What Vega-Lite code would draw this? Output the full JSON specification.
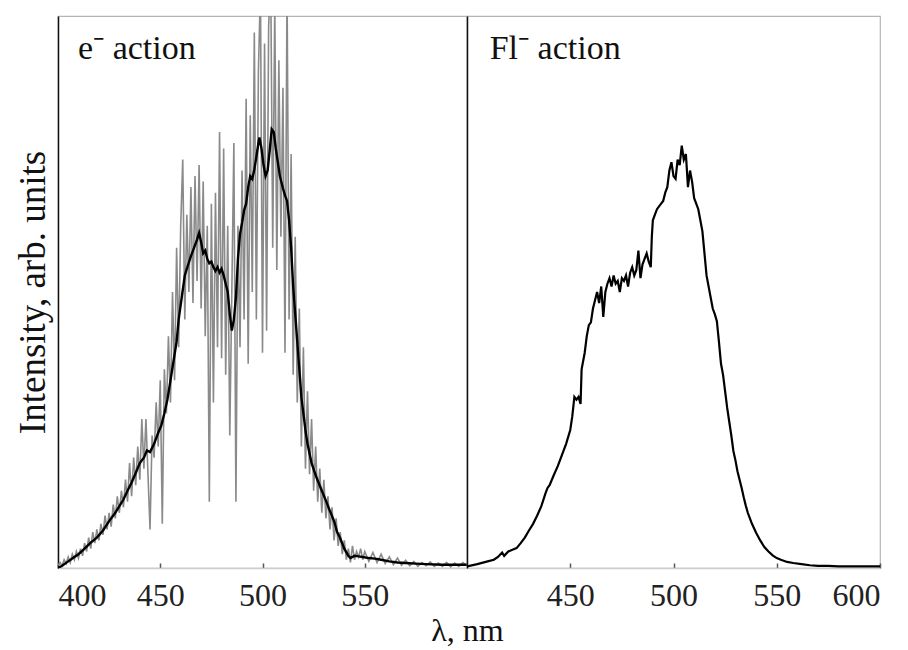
{
"$schema": "https://vega.github.io/schema/vega-lite/v6.json",
"background": "white",
"padding": {"left": 13, "top": 15, "right": 20, "bottom": 5},
"spacing": 0,
"bounds": "flush",
"config": {"view": {"stroke": "#b5b5b5", "strokeWidth": 1.2}, "font": "Times New Roman", "axis": {"labelFont": "Times New Roman", "titleFont": "Times New Roman", "grid": false}},
"datasets": {
"eraw": [{"wl":400,"I":0.005},{"wl":401,"I":0.01},{"wl":402,"I":0.004},{"wl":403,"I":0.015},{"wl":404,"I":0.008},{"wl":405,"I":0.02},{"wl":406,"I":0.01},{"wl":407,"I":0.025},{"wl":408,"I":0.015},{"wl":409,"I":0.03},{"wl":410,"I":0.018},{"wl":411,"I":0.035},{"wl":412,"I":0.022},{"wl":413,"I":0.045},{"wl":414,"I":0.03},{"wl":415,"I":0.055},{"wl":416,"I":0.035},{"wl":417,"I":0.065},{"wl":418,"I":0.045},{"wl":419,"I":0.07},{"wl":420,"I":0.05},{"wl":421,"I":0.08},{"wl":422,"I":0.06},{"wl":423,"I":0.095},{"wl":424,"I":0.07},{"wl":425,"I":0.1},{"wl":426,"I":0.075},{"wl":427,"I":0.115},{"wl":428,"I":0.09},{"wl":429,"I":0.13},{"wl":430,"I":0.1},{"wl":431,"I":0.14},{"wl":432,"I":0.11},{"wl":433,"I":0.16},{"wl":434,"I":0.12},{"wl":435,"I":0.19},{"wl":436,"I":0.13},{"wl":437,"I":0.2},{"wl":438,"I":0.15},{"wl":439,"I":0.22},{"wl":440,"I":0.16},{"wl":441,"I":0.27},{"wl":442,"I":0.18},{"wl":443,"I":0.27},{"wl":444,"I":0.17},{"wl":445,"I":0.07},{"wl":446,"I":0.24},{"wl":447,"I":0.2},{"wl":448,"I":0.3},{"wl":449,"I":0.22},{"wl":450,"I":0.34},{"wl":451,"I":0.08},{"wl":452,"I":0.36},{"wl":453,"I":0.28},{"wl":454,"I":0.42},{"wl":455,"I":0.3},{"wl":456,"I":0.5},{"wl":457,"I":0.34},{"wl":458,"I":0.58},{"wl":459,"I":0.4},{"wl":460,"I":0.62},{"wl":461,"I":0.74},{"wl":462,"I":0.45},{"wl":463,"I":0.64},{"wl":464,"I":0.5},{"wl":465,"I":0.69},{"wl":466,"I":0.48},{"wl":467,"I":0.71},{"wl":468,"I":0.52},{"wl":469,"I":0.73},{"wl":470,"I":0.47},{"wl":471,"I":0.7},{"wl":472,"I":0.42},{"wl":473,"I":0.62},{"wl":474,"I":0.12},{"wl":475,"I":0.66},{"wl":476,"I":0.3},{"wl":477,"I":0.68},{"wl":478,"I":0.4},{"wl":479,"I":0.79},{"wl":480,"I":0.38},{"wl":481,"I":0.76},{"wl":482,"I":0.35},{"wl":483,"I":0.62},{"wl":484,"I":0.24},{"wl":485,"I":0.5},{"wl":486,"I":0.77},{"wl":487,"I":0.12},{"wl":488,"I":0.62},{"wl":489,"I":0.4},{"wl":490,"I":0.72},{"wl":491,"I":0.45},{"wl":492,"I":0.85},{"wl":493,"I":0.37},{"wl":494,"I":0.82},{"wl":495,"I":0.5},{"wl":496,"I":0.97},{"wl":497,"I":0.45},{"wl":498,"I":0.9},{"wl":499,"I":1.05},{"wl":500,"I":0.39},{"wl":501,"I":0.95},{"wl":502,"I":0.43},{"wl":503,"I":0.98},{"wl":504,"I":1.08},{"wl":505,"I":0.58},{"wl":506,"I":1.02},{"wl":507,"I":0.54},{"wl":508,"I":0.92},{"wl":509,"I":0.6},{"wl":510,"I":0.87},{"wl":511,"I":0.39},{"wl":512,"I":1.05},{"wl":513,"I":0.45},{"wl":514,"I":0.75},{"wl":515,"I":0.35},{"wl":516,"I":0.6},{"wl":517,"I":0.3},{"wl":518,"I":0.47},{"wl":519,"I":0.22},{"wl":520,"I":0.4},{"wl":521,"I":0.18},{"wl":522,"I":0.32},{"wl":523,"I":0.17},{"wl":524,"I":0.27},{"wl":525,"I":0.14},{"wl":526,"I":0.22},{"wl":527,"I":0.12},{"wl":528,"I":0.18},{"wl":529,"I":0.1},{"wl":530,"I":0.16},{"wl":531,"I":0.09},{"wl":532,"I":0.13},{"wl":533,"I":0.07},{"wl":534,"I":0.11},{"wl":535,"I":0.05},{"wl":536,"I":0.09},{"wl":537,"I":0.04},{"wl":538,"I":0.065},{"wl":539,"I":0.025},{"wl":540,"I":0.05},{"wl":541,"I":0.015},{"wl":542,"I":0.035},{"wl":543,"I":0.01},{"wl":544,"I":0.04},{"wl":545,"I":0.015},{"wl":546,"I":0.03},{"wl":547,"I":0.02},{"wl":548,"I":0.035},{"wl":549,"I":0.015},{"wl":550,"I":0.03},{"wl":552,"I":0.012},{"wl":554,"I":0.028},{"wl":556,"I":0.01},{"wl":558,"I":0.025},{"wl":560,"I":0.008},{"wl":562,"I":0.02},{"wl":564,"I":0.006},{"wl":566,"I":0.018},{"wl":568,"I":0.005},{"wl":570,"I":0.014},{"wl":572,"I":0.004},{"wl":574,"I":0.012},{"wl":576,"I":0.003},{"wl":578,"I":0.01},{"wl":580,"I":0.004},{"wl":582,"I":0.011},{"wl":584,"I":0.003},{"wl":586,"I":0.009},{"wl":588,"I":0.003},{"wl":590,"I":0.01},{"wl":592,"I":0.002},{"wl":594,"I":0.009},{"wl":596,"I":0.003},{"wl":598,"I":0.01},{"wl":600,"I":0.004}],
"esmooth": [{"wl":400,"I":0},{"wl":402,"I":0.004},{"wl":405,"I":0.012},{"wl":408,"I":0.02},{"wl":410,"I":0.025},{"wl":413,"I":0.035},{"wl":416,"I":0.046},{"wl":419,"I":0.055},{"wl":422,"I":0.068},{"wl":425,"I":0.085},{"wl":428,"I":0.1},{"wl":430,"I":0.112},{"wl":432,"I":0.124},{"wl":434,"I":0.14},{"wl":436,"I":0.155},{"wl":438,"I":0.172},{"wl":440,"I":0.19},{"wl":442,"I":0.2},{"wl":443.5,"I":0.213},{"wl":445,"I":0.21},{"wl":447,"I":0.225},{"wl":449,"I":0.245},{"wl":450.5,"I":0.258},{"wl":452,"I":0.28},{"wl":453.5,"I":0.305},{"wl":455,"I":0.34},{"wl":456.5,"I":0.375},{"wl":458,"I":0.41},{"wl":459,"I":0.45},{"wl":460.5,"I":0.49},{"wl":462,"I":0.53},{"wl":463.5,"I":0.548},{"wl":465,"I":0.565},{"wl":466.5,"I":0.58},{"wl":468,"I":0.595},{"wl":469,"I":0.607},{"wl":470,"I":0.59},{"wl":471,"I":0.57},{"wl":472,"I":0.575},{"wl":473,"I":0.56},{"wl":474,"I":0.552},{"wl":475,"I":0.555},{"wl":476,"I":0.545},{"wl":477,"I":0.538},{"wl":478,"I":0.545},{"wl":479,"I":0.535},{"wl":480,"I":0.542},{"wl":481,"I":0.53},{"wl":482,"I":0.515},{"wl":483,"I":0.5},{"wl":484,"I":0.46},{"wl":485,"I":0.43},{"wl":486,"I":0.45},{"wl":487,"I":0.49},{"wl":488,"I":0.56},{"wl":489,"I":0.605},{"wl":490,"I":0.625},{"wl":491,"I":0.648},{"wl":492,"I":0.66},{"wl":493,"I":0.69},{"wl":494,"I":0.71},{"wl":495,"I":0.705},{"wl":496,"I":0.722},{"wl":497,"I":0.745},{"wl":498,"I":0.77},{"wl":498.5,"I":0.78},{"wl":499.5,"I":0.76},{"wl":500.5,"I":0.73},{"wl":501.5,"I":0.71},{"wl":502.5,"I":0.72},{"wl":503.5,"I":0.755},{"wl":504.5,"I":0.795},{"wl":505.5,"I":0.79},{"wl":506.5,"I":0.76},{"wl":507.5,"I":0.735},{"wl":508.5,"I":0.71},{"wl":510,"I":0.688},{"wl":511,"I":0.675},{"wl":512,"I":0.665},{"wl":513,"I":0.63},{"wl":514,"I":0.58},{"wl":515,"I":0.51},{"wl":516,"I":0.46},{"wl":517,"I":0.41},{"wl":518,"I":0.36},{"wl":519,"I":0.31},{"wl":520,"I":0.28},{"wl":521,"I":0.25},{"wl":522,"I":0.225},{"wl":524,"I":0.19},{"wl":526.5,"I":0.163},{"wl":529,"I":0.14},{"wl":531,"I":0.122},{"wl":533,"I":0.103},{"wl":535,"I":0.085},{"wl":536.5,"I":0.065},{"wl":538,"I":0.054},{"wl":540,"I":0.035},{"wl":542,"I":0.022},{"wl":543,"I":0.018},{"wl":545,"I":0.022},{"wl":547,"I":0.021},{"wl":549,"I":0.02},{"wl":552,"I":0.018},{"wl":555,"I":0.017},{"wl":558,"I":0.015},{"wl":562,"I":0.012},{"wl":566,"I":0.01},{"wl":570,"I":0.009},{"wl":575,"I":0.008},{"wl":580,"I":0.007},{"wl":588,"I":0.006},{"wl":595,"I":0.006},{"wl":600,"I":0.006}],
"fl": [{"wl":400,"I":0.003},{"wl":405,"I":0.007},{"wl":410,"I":0.012},{"wl":413,"I":0.015},{"wl":415,"I":0.02},{"wl":417,"I":0.028},{"wl":418,"I":0.022},{"wl":420,"I":0.03},{"wl":422,"I":0.033},{"wl":424,"I":0.036},{"wl":426,"I":0.045},{"wl":428,"I":0.055},{"wl":430,"I":0.068},{"wl":432,"I":0.08},{"wl":434,"I":0.095},{"wl":436,"I":0.112},{"wl":438,"I":0.135},{"wl":439,"I":0.145},{"wl":440,"I":0.15},{"wl":442,"I":0.168},{"wl":444,"I":0.185},{"wl":446,"I":0.205},{"wl":448,"I":0.225},{"wl":450,"I":0.25},{"wl":451,"I":0.275},{"wl":452,"I":0.31},{"wl":453,"I":0.305},{"wl":454,"I":0.31},{"wl":455,"I":0.297},{"wl":455.5,"I":0.36},{"wl":457,"I":0.39},{"wl":458,"I":0.42},{"wl":459,"I":0.44},{"wl":460,"I":0.445},{"wl":461,"I":0.47},{"wl":462,"I":0.485},{"wl":463,"I":0.5},{"wl":464,"I":0.48},{"wl":465,"I":0.51},{"wl":466,"I":0.455},{"wl":467,"I":0.5},{"wl":468,"I":0.515},{"wl":469,"I":0.525},{"wl":470,"I":0.51},{"wl":471,"I":0.53},{"wl":472,"I":0.515},{"wl":473,"I":0.52},{"wl":474,"I":0.5},{"wl":475,"I":0.525},{"wl":476,"I":0.52},{"wl":477,"I":0.53},{"wl":478,"I":0.51},{"wl":479,"I":0.535},{"wl":480,"I":0.545},{"wl":481,"I":0.53},{"wl":482,"I":0.54},{"wl":483,"I":0.575},{"wl":484,"I":0.525},{"wl":485,"I":0.55},{"wl":486,"I":0.56},{"wl":487,"I":0.57},{"wl":488,"I":0.555},{"wl":489,"I":0.545},{"wl":489.5,"I":0.6},{"wl":490,"I":0.63},{"wl":491,"I":0.64},{"wl":492,"I":0.65},{"wl":493,"I":0.655},{"wl":494,"I":0.66},{"wl":495,"I":0.665},{"wl":496,"I":0.68},{"wl":497,"I":0.69},{"wl":498,"I":0.72},{"wl":499,"I":0.735},{"wl":500,"I":0.71},{"wl":501,"I":0.705},{"wl":502,"I":0.74},{"wl":503,"I":0.73},{"wl":504,"I":0.765},{"wl":505,"I":0.74},{"wl":506,"I":0.75},{"wl":507,"I":0.69},{"wl":508,"I":0.72},{"wl":509,"I":0.7},{"wl":510,"I":0.67},{"wl":511,"I":0.66},{"wl":512,"I":0.65},{"wl":513,"I":0.63},{"wl":514,"I":0.61},{"wl":515,"I":0.57},{"wl":516,"I":0.53},{"wl":517,"I":0.51},{"wl":518,"I":0.49},{"wl":519,"I":0.47},{"wl":520,"I":0.46},{"wl":521,"I":0.447},{"wl":522,"I":0.41},{"wl":523,"I":0.37},{"wl":524,"I":0.35},{"wl":525,"I":0.32},{"wl":526,"I":0.29},{"wl":527,"I":0.265},{"wl":528,"I":0.24},{"wl":529,"I":0.212},{"wl":530,"I":0.195},{"wl":531,"I":0.175},{"wl":532,"I":0.16},{"wl":533,"I":0.145},{"wl":534,"I":0.128},{"wl":535,"I":0.113},{"wl":536,"I":0.1},{"wl":538,"I":0.08},{"wl":540,"I":0.064},{"wl":542,"I":0.05},{"wl":544,"I":0.038},{"wl":546,"I":0.03},{"wl":548,"I":0.023},{"wl":550,"I":0.018},{"wl":552,"I":0.015},{"wl":555,"I":0.011},{"wl":558,"I":0.009},{"wl":562,"I":0.007},{"wl":566,"I":0.005},{"wl":570,"I":0.004},{"wl":575,"I":0.004},{"wl":580,"I":0.003},{"wl":590,"I":0.003},{"wl":600,"I":0.003}],
"lab1": [{"wl":409.8,"I":0.922,"t":"e⁻ action"}],
"lab2": [{"wl":411,"I":0.922,"t":"Fl⁻ action"}]
},
"hconcat": [
{
"width": 409, "height": 552,
"layer": [
{"data": {"name": "eraw"}, "mark": {"type": "line", "color": "#8a8a8a", "strokeWidth": 1.6, "clip": true},
 "encoding": {
  "x": {"field": "wl", "type": "quantitative", "scale": {"domain": [400, 600], "nice": false},
        "axis": {"orient": "bottom", "values": [400, 450, 500, 550], "title": null, "labelFont": "Times New Roman", "labelFontSize": 32, "labelColor": "#222", "tickSize": -5, "tickColor": "#555", "tickWidth": 1.5, "domainColor": "#cccccc", "domainWidth": 1.5, "labelPadding": 17}},
  "y": {"field": "I", "type": "quantitative", "scale": {"domain": [0, 1], "nice": false},
        "axis": {"orient": "left", "labels": false, "ticks": false, "domainColor": "#111", "domainWidth": 1.5, "title": "Intensity, arb. units", "titleFont": "Times New Roman", "titleFontSize": 37, "titleFontWeight": "normal", "titleColor": "#111", "titlePadding": 6}}
 }},
{"data": {"name": "esmooth"}, "mark": {"type": "line", "color": "#000", "strokeWidth": 2.4, "clip": true},
 "encoding": {
  "x": {"field": "wl", "type": "quantitative"},
  "y": {"field": "I", "type": "quantitative"}
 }},
{"data": {"name": "lab1"}, "mark": {"type": "text", "align": "left", "baseline": "alphabetic", "fontSize": 34, "font": "Times New Roman", "color": "#111"},
 "encoding": {"x": {"field": "wl", "type": "quantitative"}, "y": {"field": "I", "type": "quantitative"}, "text": {"field": "t"}}}
]
},
{
"width": 413, "height": 552,
"layer": [
{"data": {"name": "fl"}, "mark": {"type": "line", "color": "#000", "strokeWidth": 2.2, "clip": true},
 "encoding": {
  "x": {"field": "wl", "type": "quantitative", "scale": {"domain": [400, 600], "nice": false},
        "axis": {"orient": "bottom", "values": [450, 500, 550, 600], "title": "λ, nm", "titleX": 0, "titleAlign": "center", "titleFont": "Times New Roman", "titleFontSize": 32, "titleFontWeight": "normal", "titleColor": "#111", "titlePadding": 4, "labelFont": "Times New Roman", "labelFontSize": 32, "labelColor": "#222", "tickSize": -5, "tickColor": "#555", "tickWidth": 1.5, "domainColor": "#cccccc", "domainWidth": 1.5, "labelPadding": 17}},
  "y": {"field": "I", "type": "quantitative", "scale": {"domain": [0, 1], "nice": false},
        "axis": {"orient": "left", "labels": false, "ticks": false, "domainColor": "#111", "domainWidth": 1.5, "title": null}}
 }},
{"data": {"name": "lab2"}, "mark": {"type": "text", "align": "left", "baseline": "alphabetic", "fontSize": 34, "font": "Times New Roman", "color": "#111"},
 "encoding": {
  "x": {"field": "wl", "type": "quantitative"},
  "y": {"field": "I", "type": "quantitative"},
  "text": {"field": "t"}}}
]
}
]
}
